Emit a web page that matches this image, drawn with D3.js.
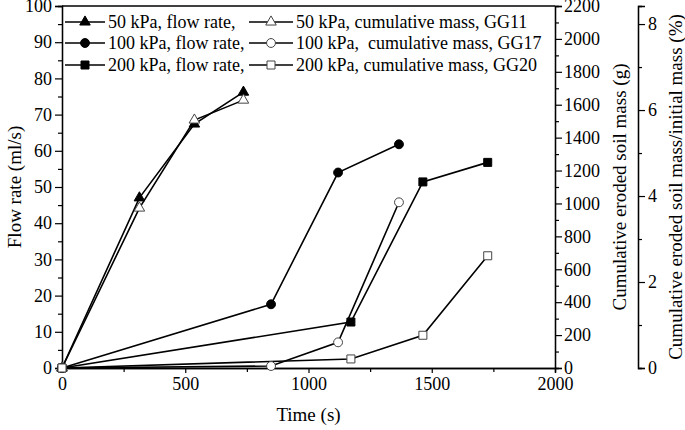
<!DOCTYPE html>
<html><head><meta charset="utf-8">
<script src="https://cdn.jsdelivr.net/npm/d3@7"></script>
<style>
body{margin:0;background:#fff;}
svg text{font-family:"Liberation Serif","Times New Roman",serif;fill:#000;}
</style></head>
<body><svg id="c" width="685" height="430"></svg>
<script>
// ---- data ----
const time50 = [0, 314, 537, 736];
const flow50 = [0, 47.0, 67.4, 76.2];
const mass50 = [0, 972, 1507, 1628];
const time100 = [0, 848, 1120, 1367];
const flow100 = [0, 17.6, 54.0, 61.8];
const mass100 = [0, 12, 156, 1007];
const time200 = [0, 1172, 1464, 1727];
const flow200 = [0, 12.7, 51.4, 56.8];
const mass200 = [0, 55, 199, 682];
const legendFlow = ["50 kPa, flow rate,", "100 kPa, flow rate,", "200 kPa, flow rate,"];
const legendMass = ["50 kPa, cumulative mass, GG11", "100 kPa,  cumulative mass, GG17", "200 kPa, cumulative mass, GG20"];
const xTicks = [0, 500, 1000, 1500, 2000];
const yLeftTicks = [0,10,20,30,40,50,60,70,80,90,100];
const yMassTicks = [0,200,400,600,800,1000,1200,1400,1600,1800,2000,2200];
const yPctTicks = [0,2,4,6,8];

const svg = d3.select("#c");
const L = 62, R = 555, T = 6, B = 368;
const x = d3.scaleLinear().domain([0,2000]).range([L,R]);
const yL = d3.scaleLinear().domain([0,100]).range([B,T]);
const yM = d3.scaleLinear().domain([0,2200]).range([B,T]);
const yP = d3.scaleLinear().domain([0,8.42]).range([B,T]);
const FS = 18;

function styleAxis(g){
  g.selectAll("path").attr("stroke","#000").attr("stroke-width",1.3);
  g.selectAll("line").attr("stroke","#000").attr("stroke-width",1.2);
  g.selectAll("text").attr("font-size",FS).attr("font-family","Liberation Serif");
}
// minor ticks
function minor(axisGen, vals, g){ }

// bottom axis
const gx = svg.append("g").attr("transform",`translate(0,${B})`);
gx.call(d3.axisBottom(x).tickValues(d3.range(250,2001,500)).tickSize(4).tickFormat("")).call(styleAxis);
gx.append("g").call(d3.axisBottom(x).tickValues(xTicks).tickSize(5).tickPadding(4).tickFormat(d3.format("d"))).call(styleAxis);

// left axis
const gl = svg.append("g").attr("transform",`translate(${L},0)`);
gl.call(d3.axisLeft(yL).tickValues(d3.range(5,100,10)).tickSize(4).tickFormat("")).call(styleAxis);
gl.append("g").call(d3.axisLeft(yL).tickValues(yLeftTicks).tickSize(7).tickPadding(3).tickFormat(d3.format("d"))).call(styleAxis);

// right mass axis
const gr = svg.append("g").attr("transform",`translate(${R},0)`);
gr.call(d3.axisRight(yM).tickValues(d3.range(100,2200,200)).tickSize(4).tickFormat("")).call(styleAxis);
gr.append("g").call(d3.axisRight(yM).tickValues(yMassTicks).tickSize(7).tickPadding(2).tickFormat(d3.format("d"))).call(styleAxis);

// percent axis
const PX = 638;
const gp = svg.append("g").attr("transform",`translate(${PX},0)`);
gp.call(d3.axisRight(yP).tickValues([1,3,5,7]).tickSize(4).tickFormat("")).call(styleAxis);
gp.append("g").call(d3.axisRight(yP).tickValues(yPctTicks).tickSize(7).tickPadding(3).tickFormat(d3.format("d"))).call(styleAxis);

// top border
svg.append("line").attr("x1",L).attr("x2",R).attr("y1",yL(100)).attr("y2",yL(100)).attr("stroke","#000").attr("stroke-width",1.3);

// titles
svg.append("text").attr("x",(L+R)/2).attr("y",421).attr("text-anchor","middle").attr("font-size",19).text("Time (s)");
svg.append("text").attr("transform",`translate(21,${(T+B)/2}) rotate(-90)`).attr("text-anchor","middle").attr("font-size",19).text("Flow rate (ml/s)");
svg.append("text").attr("transform",`translate(626,${(T+B)/2}) rotate(-90)`).attr("text-anchor","middle").attr("font-size",19).text("Cumulative eroded soil mass (g)");
svg.append("text").attr("transform",`translate(682,${(T+B)/2}) rotate(-90)`).attr("text-anchor","middle").attr("font-size",19).text("Cumulative eroded soil mass/initial mass (%)");

// series
const series = [
  {t:time50, v:flow50, y:yL, sym:d3.symbolTriangle, size:48, fill:"#000"},
  {t:time50, v:mass50, y:yM, sym:d3.symbolTriangle, size:48, fill:"#fff"},
  {t:time100, v:flow100, y:yL, sym:d3.symbolCircle, size:62, fill:"#000"},
  {t:time100, v:mass100, y:yM, sym:d3.symbolCircle, size:62, fill:"#fff"},
  {t:time200, v:flow200, y:yL, sym:d3.symbolSquare, size:64, fill:"#000"},
  {t:time200, v:mass200, y:yM, sym:d3.symbolSquare, size:64, fill:"#fff"},
];
const lineG = svg.append("g"), markG = svg.append("g");
series.forEach(s=>{
  const pts = s.t.map((t,i)=>[x(t), s.y(s.v[i])]);
  lineG.append("path").attr("d",d3.line()(pts)).attr("fill","none").attr("stroke","#000").attr("stroke-width",1.6);
});
series.forEach(s=>{
  s.t.forEach((t,i)=>{
    markG.append("path").attr("d",d3.symbol(s.sym,s.size)())
      .attr("transform",`translate(${x(t)},${s.y(s.v[i])})`)
      .attr("fill",s.fill).attr("stroke",s.fill==="#000"?"#000":"#444").attr("stroke-width",1);
  });
});

// legend
const legRows = [22,43,65];
const legSym = [[d3.symbolTriangle,48],[d3.symbolCircle,62],[d3.symbolSquare,64]];
const lg = svg.append("g");
function legItem(x0,x1,y,sym,size,fill,label){
  lg.append("line").attr("x1",x0).attr("x2",x1).attr("y1",y).attr("y2",y).attr("stroke","#000").attr("stroke-width",1.6);
  lg.append("path").attr("d",d3.symbol(sym,size)()).attr("transform",`translate(${(x0+x1)/2},${y})`)
    .attr("fill",fill).attr("stroke",fill==="#000"?"#000":"#444").attr("stroke-width",1);
  lg.append("text").attr("x",x1+3).attr("y",y+6).attr("font-size",FS).attr("xml:space","preserve").style("white-space","pre").text(label);
}
legendFlow.forEach((t,i)=>legItem(65,105,legRows[i],legSym[i][0],legSym[i][1],"#000",t));
legendMass.forEach((t,i)=>legItem(249,293,legRows[i],legSym[i][0],legSym[i][1],"#fff",t));
</script></body></html>
